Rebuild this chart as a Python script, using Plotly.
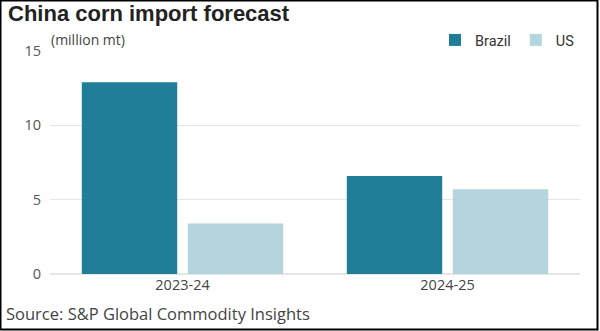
import plotly.graph_objects as go

categories = ["2023-24", "2024-25"]
brazil = [12.9, 6.6]
us = [3.4, 5.7]
y_ticks = [0, 5, 10, 15]

W, H = 600, 331
L, R, T, B = 50, 20, 51, 57
pw, ph = W - L - R, H - T - B

def px(x):
    return (x - L) / pw

def py(y):
    return (H - B - y) / ph

fig = go.Figure()
fig.add_trace(go.Bar(name="Brazil", x=categories, y=brazil, marker_color="#217e98", marker_line_width=0))
fig.add_trace(go.Bar(name="US", x=categories, y=us, marker_color="#b4d5de", marker_line_width=0))

fig.update_layout(
    width=W, height=H,
    margin=dict(l=L, r=R, t=T, b=B),
    paper_bgcolor="white", plot_bgcolor="white",
    barmode="group", bargap=0.2, bargroupgap=0.1,
    font=dict(family="Open Sans", color="#444", size=14),
    showlegend=True,
    legend=dict(orientation="h", x=1, xanchor="right", y=py(40), yanchor="middle",
                font=dict(family="Roboto", size=14.5, color="#333"), itemwidth=30, traceorder="normal",
                bgcolor="rgba(0,0,0,0)"),
    xaxis=dict(showgrid=False, showline=False, ticks="", tickfont=dict(size=14.5, color="#444")),
    yaxis=dict(range=[0, 15], tickvals=y_ticks, showgrid=True, gridcolor="#e6e6e6", gridwidth=1,
               zeroline=True, zerolinecolor="#e6e6e6", showline=False, ticks="",
               tickfont=dict(size=14.5, color="#555"), ticklabelstandoff=8),
)

fig.add_annotation(text="<b>China corn import forecast</b>", xref="paper", yref="paper",
                   x=px(6), y=py(14), xanchor="left", yanchor="middle", showarrow=False,
                   font=dict(family="Liberation Sans", size=22, color="#222"))
fig.add_annotation(text="(million mt)", xref="paper", yref="paper",
                   x=px(49), y=py(39), xanchor="left", yanchor="middle", showarrow=False,
                   font=dict(family="Open Sans", size=14, color="#444"))
fig.add_annotation(text="Source: S&P Global Commodity Insights", xref="paper", yref="paper",
                   x=px(4), y=py(313), xanchor="left", yanchor="middle", showarrow=False,
                   font=dict(size=16.5, color="#444"))
fig.add_shape(type="rect", xref="paper", yref="paper",
              x0=px(0.5), x1=px(597.5), y0=py(0.5), y1=py(329.5),
              line=dict(color="black", width=2), fillcolor="rgba(0,0,0,0)", layer="above")

fig.write_html("out.html")
